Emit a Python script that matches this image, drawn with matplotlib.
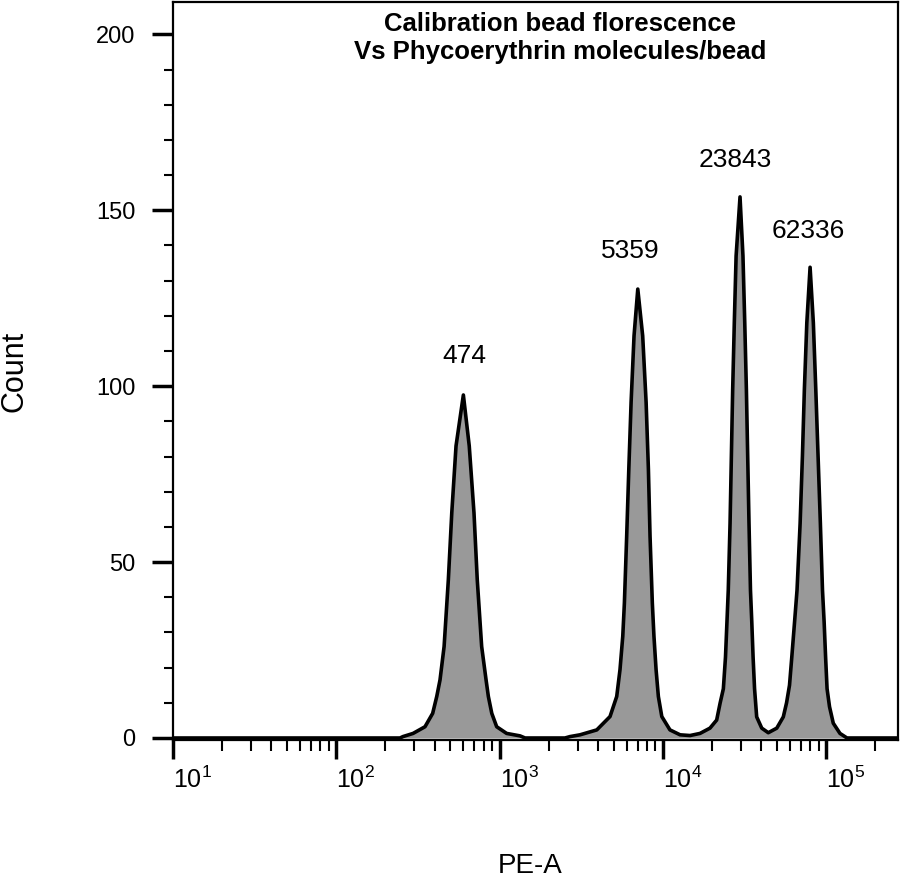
import matplotlib
matplotlib.use('Agg')
import matplotlib.pyplot as plt
from matplotlib.ticker import LogLocator, NullFormatter, MultipleLocator
import numpy as np

plt.rcParams['font.family'] = ['Liberation Sans', 'DejaVu Sans']
plt.rcParams['mathtext.fontset'] = 'custom'
plt.rcParams['mathtext.rm'] = 'Liberation Sans'
plt.rcParams['mathtext.default'] = 'regular'

# ----------------------------------
# data (log10 of PE-A, count)
# ----------------------------------
log_pe = [1.000, 2.390,
          # peak 1 (474)
          2.408, 2.470, 2.543, 2.590, 2.615, 2.635, 2.660, 2.686, 2.707, 2.733,
          2.778,
          2.814, 2.843, 2.863, 2.890, 2.917, 2.931, 2.952, 2.982, 3.043, 3.125,
          3.156, 3.400,
          # peak 2 (5359)
          3.431, 3.492, 3.595, 3.676, 3.717, 3.737, 3.754, 3.764, 3.778, 3.791,
          3.805, 3.823, 3.846,
          3.876, 3.897, 3.911, 3.921, 3.935, 3.945, 3.958, 3.972, 3.993, 4.043,
          4.105, 4.166, 4.227,
          # peak 3 (23843)
          4.288, 4.329, 4.350, 4.370, 4.383, 4.392, 4.400, 4.411, 4.419, 4.427,
          4.437, 4.448, 4.472,
          4.490, 4.501, 4.511, 4.519, 4.527, 4.536, 4.544, 4.552, 4.561, 4.574,
          4.605, 4.645, 4.697,
          # peak 4 (62336)
          4.737, 4.757, 4.775, 4.789, 4.806, 4.821, 4.840, 4.854, 4.866, 4.881,
          4.901,
          4.921, 4.936, 4.950, 4.964, 4.977, 4.987, 4.996, 5.005, 5.020, 5.043,
          5.084, 5.127, 5.440]

count = [0, 0,
         0.4, 1.3, 3.2, 7.0, 11.8, 16.5, 26.0, 45.0, 64.0, 83.0,
         97.5,
         83.0, 64.0, 45.0, 26.0, 16.5, 11.8, 7.0, 3.2, 1.3, 0.6,
         0, 0,
         0.4, 0.9, 2.3, 6.1, 11.8, 19.4, 28.9, 38.4, 57.4, 76.4,
         95.4, 114.3, 127.6,
         114.3, 95.4, 76.4, 57.4, 38.4, 28.9, 19.4, 11.8, 6.1, 2.3,
         0.9, 0.7, 1.3,
         2.8, 5.1, 9.9, 14.0, 23.0, 33.0, 42.0, 61.0, 80.0, 99.0,
         118.0, 137.0, 153.8,
         137.0, 118.0, 99.0, 80.0, 61.0, 42.0, 33.0, 23.0, 14.0, 6.0,
         2.8, 1.5, 2.8,
         6.0, 10.0, 15.0, 23.0, 33.0, 42.0, 61.0, 80.0, 99.0, 118.0,
         133.8,
         118.0, 99.0, 80.0, 61.0, 42.0, 33.0, 23.0, 14.0, 8.9, 4.2,
         1.3, 0, 0]

# peak annotations (MESF values) and where they sit
peak_labels = ['474', '5359', '23843', '62336']
label_pe = [605, 6310, 27540, 77600]
label_count = [108.7, 138.5, 164.4, 144.2]

x_major = [1e1, 1e2, 1e3, 1e4, 1e5]
x_major_labels = ['$10^{1}$', '$10^{2}$', '$10^{3}$', '$10^{4}$', '$10^{5}$']
y_major = [0, 50, 100, 150, 200]

pe = 10 ** np.array(log_pe)

# ----------------------------------
# plot
# ----------------------------------
fig = plt.figure(figsize=(9, 8.8), dpi=100)
ax = fig.add_axes([173 / 900, 1 - 740 / 880, 725 / 900, 738 / 880])

ax.fill_between(pe, count, 0, color='#999999', linewidth=0)
ax.plot(pe, count, color='black', linewidth=2.6)

ax.set_xscale('log')
ax.set_xlim(10, 2.75e5)
ax.set_ylim(-0.57, 209.2)

ax.set_xticks(x_major)
ax.set_xticklabels(x_major_labels)
ax.xaxis.set_minor_locator(LogLocator(base=10, subs=np.arange(2, 10)))
ax.xaxis.set_minor_formatter(NullFormatter())
ax.set_yticks(y_major)
ax.yaxis.set_minor_locator(MultipleLocator(10))

for lab in ax.get_xticklabels():
    lab.set_horizontalalignment('left')

ax.tick_params(axis='x', which='major', length=14, width=2.5, pad=5, labelsize=18)
ax.tick_params(axis='x', which='minor', length=8, width=1.5)
ax.tick_params(axis='y', which='major', length=15, width=2.5, pad=12, labelsize=17)
ax.tick_params(axis='y', which='minor', length=6.5, width=1.5)

for spine in ax.spines.values():
    spine.set_linewidth(1.6)

for lab, xv, yv in zip(peak_labels, label_pe, label_count):
    ax.text(xv, yv, lab, ha='center', va='center', fontsize=19)

fig.text(560 / 900, 1 - 12 / 880,
         'Calibration bead florescence\nVs Phycoerythrin molecules/bead',
         ha='center', va='top', fontsize=18.5, fontweight='bold', linespacing=1.2)

fig.text(14 / 900, 1 - 371 / 880, 'Count', rotation=90, ha='center', va='center', fontsize=22)
fig.text(530 / 900, 1 - 853 / 880, 'PE-A', ha='center', va='top', fontsize=20)

fig.savefig('out.png', dpi=100)
